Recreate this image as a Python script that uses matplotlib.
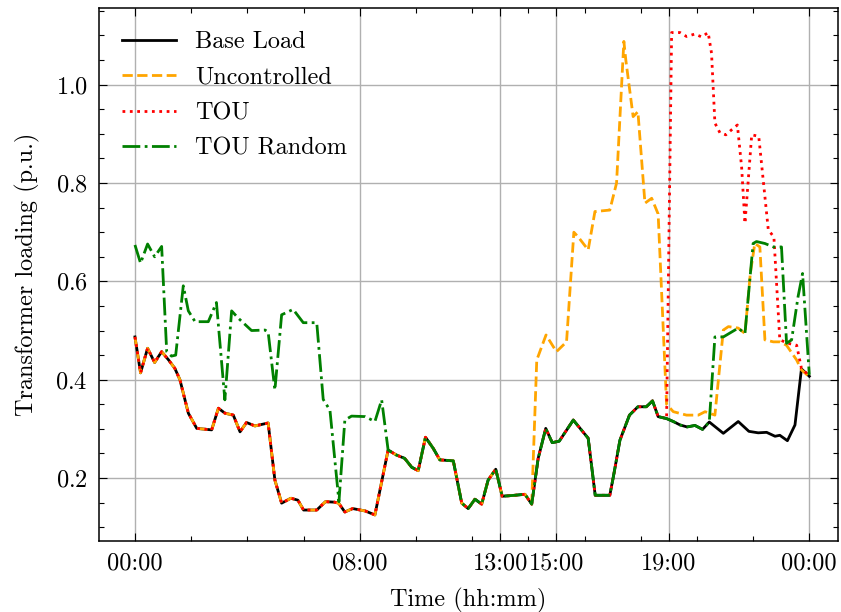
"""Transformer loading over one day: base load vs. EV charging strategies."""

import matplotlib
matplotlib.use("Agg")
import matplotlib.pyplot as plt
import numpy as np
from matplotlib.ticker import FixedLocator, MultipleLocator


# ═══════════════════════════════════════════════════════════════════════════
# data (time in hours, loading in p.u.)
# ═══════════════════════════════════════════════════════════════════════════

base_t = [0.0, 0.2, 0.45, 0.7, 0.95, 1.2, 1.42, 1.6, 1.9, 2.2, 2.73, 2.97,
          3.2, 3.5, 3.74, 3.97, 4.27, 4.74, 4.98, 5.22, 5.55, 5.8, 6.0, 6.47,
          6.78, 7.1, 7.25, 7.47, 7.75, 8.2, 8.54, 9.01, 9.3, 9.6, 9.85, 10.08,
          10.34, 10.62, 10.85, 11.33, 11.63, 11.86, 12.1, 12.34, 12.57, 12.84,
          13.07, 13.52, 13.88, 14.12, 14.35, 14.62, 14.85, 15.1, 15.6, 16.13,
          16.38, 16.9, 17.05, 17.26, 17.6, 17.9, 18.2, 18.42, 18.62, 18.92,
          19.16, 19.4, 19.65, 19.93, 20.2, 20.44, 20.94, 21.47, 21.85, 22.18,
          22.48, 22.78, 22.95, 23.22, 23.49, 23.72, 24.0]
base_load = [0.487, 0.414, 0.464, 0.435, 0.457, 0.44, 0.423, 0.40, 0.332,
             0.301, 0.298, 0.342, 0.332, 0.328, 0.294, 0.313, 0.306, 0.312,
             0.196, 0.149, 0.159, 0.155, 0.135, 0.135, 0.152, 0.151, 0.149,
             0.131, 0.138, 0.133, 0.125, 0.257, 0.247, 0.24, 0.222, 0.215,
             0.283, 0.26, 0.237, 0.235, 0.149, 0.138, 0.157, 0.147, 0.196,
             0.218, 0.163, 0.165, 0.167, 0.147, 0.24, 0.301, 0.272, 0.275,
             0.318, 0.281, 0.165, 0.165, 0.21, 0.277, 0.328, 0.345, 0.345,
             0.357, 0.325, 0.321, 0.315, 0.308, 0.304, 0.307, 0.299, 0.314,
             0.291, 0.315, 0.295, 0.292, 0.293, 0.285, 0.287, 0.276, 0.308,
             0.422, 0.407]

# uncontrolled charging: same as base load until 14:07, then its own curve
unc_split = 14.12
unc_tail_t = [14.3, 14.63, 15.0, 15.36, 15.62, 15.78, 16.13, 16.37, 16.9,
              17.14, 17.4, 17.47, 17.73, 17.9, 18.15, 18.39, 18.62, 18.92,
              19.16, 19.63, 20.05, 20.29, 20.64, 20.94, 21.12, 21.47, 21.71,
              21.9, 22.06, 22.24, 22.42, 22.72, 22.95, 23.19, 23.55, 23.72,
              24.0]
unc_tail = [0.44, 0.491, 0.457, 0.477, 0.70, 0.69, 0.664, 0.742, 0.745,
            0.80, 1.088, 1.05, 0.935, 0.945, 0.759, 0.769, 0.737, 0.35,
            0.335, 0.328, 0.328, 0.335, 0.328, 0.501, 0.508, 0.505, 0.494,
            0.616, 0.677, 0.67, 0.481, 0.477, 0.477, 0.47, 0.44, 0.42,
            0.406]

# TOU: same as base load until 18:55
tou_split = 18.92
tou_tail_t = [19.1, 19.4, 19.63, 19.93, 20.17, 20.4, 20.52, 20.64, 20.82,
              21.03, 21.23, 21.44, 21.59, 21.71, 21.95, 22.2, 22.54, 22.74,
              22.95, 23.25, 23.55, 23.72, 24.0]
tou_tail = [1.106, 1.106, 1.098, 1.103, 1.097, 1.106, 1.064, 0.922, 0.902,
            0.898, 0.908, 0.918, 0.833, 0.718, 0.898, 0.895, 0.705, 0.69,
            0.481, 0.474, 0.47, 0.423, 0.408]

# TOU random: own curve in the morning, base load 09:00-20:26, own curve after
rnd_head_t = [0.0, 0.2, 0.45, 0.7, 0.95, 1.13, 1.3, 1.45, 1.72, 1.9, 2.14,
              2.61, 2.9, 3.2, 3.44, 3.68, 4.15, 4.63, 4.74, 4.98, 5.22, 5.63,
              5.99, 6.47, 6.7, 6.94, 7.26, 7.47, 7.71, 8.19, 8.54, 8.78]
rnd_head = [0.674, 0.637, 0.676, 0.65, 0.671, 0.457, 0.448, 0.45, 0.591,
            0.54, 0.518, 0.518, 0.557, 0.359, 0.54, 0.525, 0.50, 0.501,
            0.497, 0.379, 0.532, 0.543, 0.516, 0.516, 0.36, 0.338, 0.152,
            0.318, 0.326, 0.325, 0.315, 0.359]
rnd_mid = (9.01, 20.44)
rnd_tail_t = [20.64, 20.94, 21.47, 21.71, 22.0, 22.12, 22.42, 22.72, 23.01,
              23.19, 23.37, 23.6, 23.76, 24.0]
rnd_tail = [0.487, 0.487, 0.505, 0.494, 0.677, 0.681, 0.677, 0.67, 0.67,
            0.474, 0.481, 0.569, 0.616, 0.41]

tick_hours = [0, 8, 13, 15, 19, 24]
tick_labels = ["00:00", "08:00", "13:00", "15:00", "19:00", "00:00"]
minor_hours = [2, 4, 6, 10, 12, 14, 16, 18, 20, 22]

# ═══════════════════════════════════════════════════════════════════════════
# assemble series
# ═══════════════════════════════════════════════════════════════════════════

tb = np.array(base_t)
vb = np.array(base_load)

m = tb <= unc_split
unc_t = np.r_[tb[m], unc_tail_t]
unc_v = np.r_[vb[m], unc_tail]

m = tb <= tou_split
tou_t = np.r_[tb[m], tou_tail_t]
tou_v = np.r_[vb[m], tou_tail]

m = (tb >= rnd_mid[0]) & (tb <= rnd_mid[1])
rnd_t = np.r_[rnd_head_t, tb[m], rnd_tail_t]
rnd_v = np.r_[rnd_head, vb[m], rnd_tail]

# ═══════════════════════════════════════════════════════════════════════════
# plot
# ═══════════════════════════════════════════════════════════════════════════

plt.rcParams.update({
    "font.family": ["cmr10", "DejaVu Serif"],
    "mathtext.fontset": "cm",
    "axes.formatter.use_mathtext": True,
    "axes.unicode_minus": False,
    "font.size": 17.5,
    "xtick.direction": "in",
    "ytick.direction": "in",
    "xtick.top": True,
    "ytick.right": True,
    "xtick.major.size": 6,
    "ytick.major.size": 6,
    "xtick.minor.size": 3.5,
    "ytick.minor.size": 3.5,
    "xtick.major.width": 0.8,
    "ytick.major.width": 0.8,
    "xtick.minor.width": 0.8,
    "ytick.minor.width": 0.8,
    "axes.linewidth": 1.1,
})

fig = plt.figure(figsize=(8.41, 6.12), dpi=100)
ax = fig.add_axes([0.1177, 0.116, 0.8787, 0.871])

lw = 2.0
ax.plot(tb, vb, "-", color="black", lw=lw, label="Base Load")
ax.plot(unc_t, unc_v, "--", color="orange", lw=lw, label="Uncontrolled")
ax.plot(tou_t, tou_v, ":", color="red", lw=lw, label="TOU")
ax.plot(rnd_t, rnd_v, "-.", color="green", lw=lw, label="TOU Random")

ax.set_xlim(-1.28, 25.02)
ax.set_ylim(0.072, 1.156)
ax.xaxis.set_major_locator(FixedLocator(tick_hours))
ax.set_xticklabels(tick_labels)
ax.xaxis.set_minor_locator(FixedLocator(minor_hours))
ax.yaxis.set_major_locator(MultipleLocator(0.2))
ax.yaxis.set_minor_locator(MultipleLocator(0.05))
ax.tick_params(which="both", pad=8)

ax.grid(True, which="major", color="#b0b0b0", lw=1.0)
ax.set_axisbelow(True)

ax.set_xlabel("Time (hh:mm)", labelpad=10)
ax.set_ylabel("Transformer loading (p.u.)", labelpad=11)
ax.legend(loc="upper left", frameon=False, handlelength=2.2,
          labelspacing=0.55, borderaxespad=0.55)

fig.savefig("out.png", dpi=100)
